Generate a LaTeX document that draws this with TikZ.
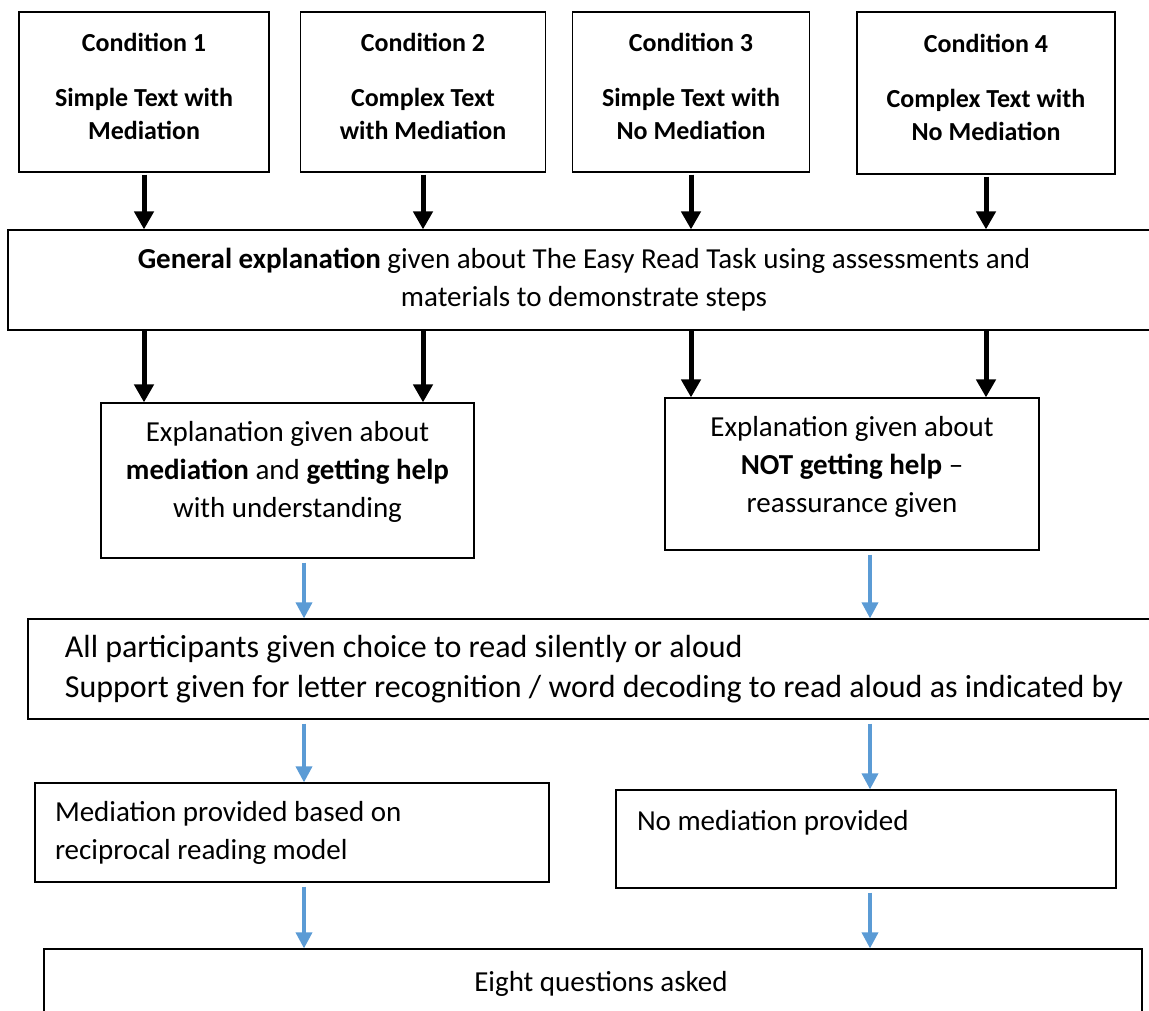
\documentclass[tikz,border=0pt]{standalone}
\usepackage{fontspec}
\setmainfont{Carlito}
\usetikzlibrary{arrows.meta}
\definecolor{flowblue}{HTML}{5B9BD5}
\begin{document}
\begin{tikzpicture}[x=1pt, y=-1pt,
    box/.style={draw, line width=1.2pt, inner sep=0pt, align=center,
      font=\fontsize{29}{38}\selectfont},
    cond/.style={box, minimum height=160, font=\bfseries\fontsize{26}{33}\selectfont},
    blk/.style={-{Triangle[length=18pt,width=19pt]}, line width=5pt},
    blu/.style={-{Triangle[length=16pt,width=16pt]}, line width=3.5pt, flowblue, shorten <=4pt}]
  \useasboundingbox (0,0) rectangle (1149,1010);
  % four conditions
  \node[cond, minimum width=250] (c1) at (144,92) {Condition 1\\[22pt]Simple Text with\\Mediation\\[-21pt]\mbox{}};
  \node[cond, minimum width=245] (c2) at (423,92) {Condition 2\\[22pt]Complex Text\\with Mediation\\[-21pt]\mbox{}};
  \node[cond, minimum width=237] (c3) at (691,92) {Condition 3\\[22pt]Simple Text with\\No Mediation\\[-21pt]\mbox{}};
  \node[cond, minimum width=258, minimum height=162] (c4) at (986,93) {Condition 4\\[22pt]Complex Text with\\No Mediation\\[-21pt]\mbox{}};
  \node[box, minimum width=1152, minimum height=100] (gen) at (584,280)
    {\textbf{General explanation} given about The Easy Read Task using assessments and\\materials to demonstrate steps};
  \node[box, minimum width=373, minimum height=155] (expA) at (287.5,480.5)
    {Explanation given about\\\textbf{mediation} and \textbf{getting help}\\with understanding\\[-16pt]\mbox{}};
  \node[box, minimum width=374, minimum height=152] (expB) at (852,474)
    {Explanation given about\\\textbf{NOT getting help} --\\reassurance given\\[-18pt]\mbox{}};
  \node[box, minimum width=1132, minimum height=100, align=flush left,
    font=\fontsize{32}{40}\selectfont] (all) at (594,669)
    {All participants given choice to read silently or aloud\\Support given for letter recognition / word decoding to read aloud as indicated by};
  \node[box, minimum width=514, minimum height=99, inner xsep=20pt, text width=474, align=flush left] (med) at (292,832.5)
    {Mediation provided based on\\reciprocal reading model};
  \node[box, minimum width=500, minimum height=98, inner xsep=21pt, text width=458, align=flush left] (nomed) at (866,839)
    {No mediation provided\\\mbox{}};
  \node[box, minimum width=1098, minimum height=70] (eight) at (593,984) {\hspace{16pt}Eight questions asked};
  \coordinate (lcol) at (304,0);
  \coordinate (rcol) at (870,0);
  % black arrows
  \foreach \c in {c1,c2,c3,c4}
    \draw[blk] (\c.south) ++(0,2) -- (\c.south |- gen.north);
  \draw[blk] (gen.south -| c1) -- (expA.north -| c1);
  \draw[blk] (gen.south -| c2) -- (expA.north -| c2);
  \draw[blk] (gen.south -| c3) -- (expB.north -| c3);
  \draw[blk] (gen.south -| c4) -- (expB.north -| c4);
  % blue arrows
  \draw[blu] (expA.south -| lcol) -- (all.north -| lcol);
  \draw[blu] (expB.south -| rcol) -- (all.north -| rcol);
  \draw[blu] (all.south -| lcol) -- (med.north -| lcol);
  \draw[blu] (all.south -| rcol) -- (nomed.north -| rcol);
  \draw[blu] (med.south -| lcol) -- (eight.north -| lcol);
  \draw[blu] (nomed.south -| rcol) -- (eight.north -| rcol);
\end{tikzpicture}
\end{document}
